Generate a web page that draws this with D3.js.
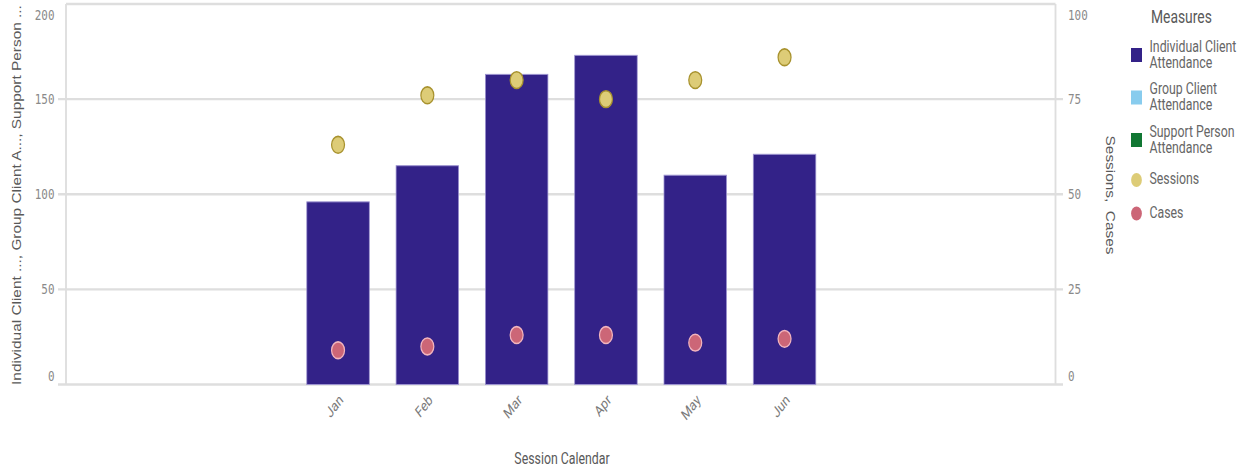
<!DOCTYPE html>
<html>
<head>
<meta charset="utf-8">
<script src="https://cdn.jsdelivr.net/npm/d3@7"></script>
<style>
  html, body { margin: 0; padding: 0; background: #fff; overflow: hidden; }
  svg { display: block; }
</style>
</head>
<body>
<svg id="chart"></svg>
<script>
// ---- data ----
const months = ["Jan", "Feb", "Mar", "Apr", "May", "Jun"];
const individualClient = [96, 115, 163, 173, 110, 121];
const groupClient = [0, 0, 0, 0, 0, 0];
const supportPerson = [0, 0, 0, 0, 0, 0];
const sessions = [63, 76, 80, 75, 80, 86];
const cases = [9, 10, 13, 13, 11, 12];
const leftTicks = [0, 50, 100, 150, 200];
const rightTicks = [0, 25, 50, 75, 100];
const measureNames = ["Individual Client Attendance", "Group Client Attendance", "Support Person Attendance", "Sessions", "Cases"];
const measureLines = [["Individual Client", "Attendance"], ["Group Client", "Attendance"], ["Support Person", "Attendance"], ["Sessions"], ["Cases"]];
const measureColors = ["#332288", "#88ccee", "#117733", "#ddcc77", "#cc6677"];
const measureShapes = ["square", "square", "square", "circle", "circle"];

// ---- canvas: drawing units are condensed horizontally ----
const SX = 0.77;
const WIDTH = 1244, HEIGHT = 470;
const VW = WIDTH / SX;
const X = s => s / SX;

const svg = d3.select("#chart")
  .attr("width", WIDTH).attr("height", HEIGHT)
  .attr("viewBox", `0 0 ${VW} ${HEIGHT}`)
  .attr("preserveAspectRatio", "none");

const plot = { left: X(66), right: X(1055.5), top: 4, bottom: 384.5 };

const yL = d3.scaleLinear().domain([0, 200]).range([plot.bottom, plot.top]);
const yR = d3.scaleLinear().domain([0, 100]).range([plot.bottom, plot.top]);
const x = d3.scaleBand().domain(months)
  .range([X(293.4), X(829.2)])
  .paddingInner(0.3).paddingOuter(0.15);
const cx = m => x(m) + x.bandwidth() / 2;

const gridColor = "#dedede";
const tickColor = "#8a8a8a";
const titleColor = "#595959";

// ---- grid lines & frame ----
const grid = svg.append("g");
grid.selectAll("line.h").data(leftTicks).join("line")
  .attr("x1", d => d === 200 ? plot.left : X(58))
  .attr("x2", d => d === 200 ? plot.right : X(1063))
  .attr("y1", d => yL(d)).attr("y2", d => yL(d))
  .attr("stroke", gridColor).attr("stroke-width", 2.4);
grid.append("line")
  .attr("x1", plot.left).attr("x2", plot.left)
  .attr("y1", plot.top).attr("y2", plot.bottom)
  .attr("stroke", gridColor).attr("stroke-width", 2.4);
grid.append("line")
  .attr("x1", plot.right).attr("x2", plot.right)
  .attr("y1", plot.top).attr("y2", plot.bottom)
  .attr("stroke", gridColor).attr("stroke-width", 2.4);

// ---- axis tick labels ----
const labelY = y => Math.max(15, Math.min(376, y));
svg.append("g").selectAll("text").data(leftTicks).join("text")
  .attr("x", X(54.5)).attr("y", d => labelY(yL(d))).attr("dy", "0.36em")
  .attr("text-anchor", "end")
  .attr("font-family", "DejaVu Sans Mono").attr("font-size", 14.2)
  .attr("fill", tickColor).text(d => d);
svg.append("g").selectAll("text").data(rightTicks).join("text")
  .attr("x", X(1068)).attr("y", d => labelY(yR(d))).attr("dy", "0.36em")
  .attr("text-anchor", "start")
  .attr("font-family", "DejaVu Sans Mono").attr("font-size", 14.2)
  .attr("fill", tickColor).text(d => d);

// ---- stacked bars (left axis) ----
const barRows = months.map((m, i) => ({
  month: m, ind: individualClient[i], grp: groupClient[i], sup: supportPerson[i]
}));
const stack = d3.stack().keys(["ind", "grp", "sup"])(barRows);
svg.append("g").selectAll("g").data(stack).join("g")
  .attr("fill", (d, i) => measureColors[i])
  .selectAll("rect").data(d => d.filter(s => s[1] > s[0])).join("rect")
  .attr("x", d => x(d.data.month))
  .attr("width", x.bandwidth())
  .attr("y", d => yL(d[1]))
  .attr("height", d => yL(d[0]) - yL(d[1]))
  .attr("stroke", "#9c93cf").attr("stroke-width", 1);

// ---- dot series (right axis) ----
const dots = svg.append("g");
dots.selectAll("circle.sessions").data(sessions).join("circle")
  .attr("class", "sessions")
  .attr("cx", (d, i) => cx(months[i])).attr("cy", d => yR(d)).attr("r", 8.4)
  .attr("fill", measureColors[3]).attr("stroke", "#a8922e").attr("stroke-width", 1.6);
dots.selectAll("circle.cases").data(cases).join("circle")
  .attr("class", "cases")
  .attr("cx", (d, i) => cx(months[i])).attr("cy", d => yR(d)).attr("r", 8.4)
  .attr("fill", measureColors[4]).attr("stroke", "#f2b5be").attr("stroke-width", 1.6);

// ---- x axis labels ----
svg.append("g").selectAll("text").data(months).join("text")
  .attr("transform", d => `translate(${cx(d) + X(6)},401) rotate(-45)`)
  .attr("text-anchor", "end")
  .attr("font-family", "Roboto").attr("font-size", 15)
  .attr("fill", "#7a7a7a").text(d => d);

// ---- axis titles ----
svg.append("text")
  .attr("transform", `translate(${X(17)},195) rotate(-90)`)
  .attr("text-anchor", "middle").attr("dy", "0.35em")
  .attr("font-family", "Liberation Sans").attr("font-size", 15.4)
  .attr("fill", titleColor)
  .text("Individual Client ..., Group Client A..., Support Person ...");
svg.append("text")
  .attr("transform", `translate(${X(1110.5)},195) rotate(90)`)
  .attr("text-anchor", "middle").attr("dy", "0.35em")
  .attr("font-family", "Liberation Sans").attr("font-size", 15.4)
  .attr("fill", titleColor).attr("xml:space", "preserve")
  .text("Sessions,  Cases");
svg.append("text")
  .attr("x", X(562)).attr("y", 464)
  .attr("text-anchor", "middle")
  .attr("font-family", "Roboto").attr("font-size", 16)
  .attr("fill", titleColor).text("Session Calendar");

// ---- legend ----
const legend = svg.append("g");
legend.append("text")
  .attr("x", X(1151)).attr("y", 23)
  .attr("font-family", "Roboto").attr("font-size", 18)
  .attr("fill", titleColor).text("Measures");

let baseY = 52;
measureNames.forEach((name, i) => {
  const lines = measureLines[i];
  const g = legend.append("g").attr("class", "item").attr("data-name", name);
  const textY = lines.length === 1 ? baseY + 5 : baseY;
  if (measureShapes[i] === "square") {
    g.append("rect")
      .attr("x", X(1131)).attr("y", baseY - 4)
      .attr("width", X(11)).attr("height", 14)
      .attr("fill", measureColors[i]);
  } else {
    g.append("circle")
      .attr("cx", X(1136.5)).attr("cy", textY - 4.5).attr("r", 7)
      .attr("fill", measureColors[i]);
  }
  const t = g.append("text")
    .attr("x", X(1149.5)).attr("y", textY)
    .attr("font-family", "Roboto").attr("font-size", 16)
    .attr("fill", "#666");
  lines.forEach((ln, k) => {
    t.append("tspan").attr("x", X(1149.5)).attr("y", textY + k * 16).text(ln);
  });
  baseY += lines.length === 2 ? 42.5 : 33.5;
});
</script>
</body>
</html>
